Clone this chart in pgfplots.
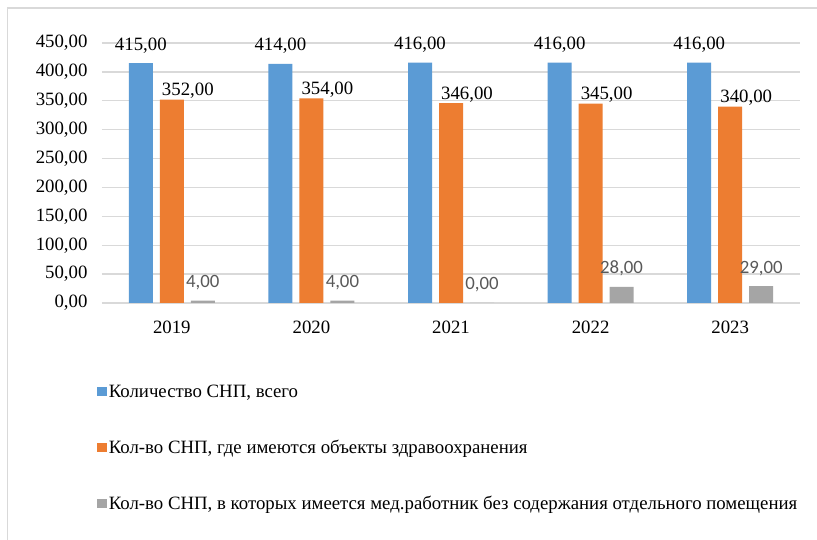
\documentclass[border=0pt]{standalone}
\usepackage{fontspec}
\setmainfont{Liberation Serif}
\newfontfamily\calib{Carlito}
\usepackage{pgfplots}
\pgfplotsset{compat=1.18}

\definecolor{sblue}{HTML}{5B9BD5}
\definecolor{sorange}{HTML}{ED7D31}
\definecolor{sgray}{HTML}{A5A5A5}
\definecolor{gridgray}{HTML}{D9D9D9}
\definecolor{labgray}{HTML}{595959}

\begin{document}
\begin{tikzpicture}[font=\fontsize{18.8}{22}\selectfont]
\pgfkeys{/pgf/number format/.cd, fixed, fixed zerofill, precision=2, use comma, assume math mode=true}
\path[use as bounding box] (0pt,0pt) rectangle (817pt,540pt);
\fill[white] (0pt,0pt) rectangle (817pt,540pt);
\draw[gridgray, line width=1.5pt] (7.5pt,0pt) -- (7.5pt,532pt) -- (817pt,532pt);
\begin{axis}[
    at={(102pt,237pt)}, anchor=south west,
    scale only axis, width=698pt, height=260pt,
    ybar=7pt, bar width=24pt,
    xmin=-0.5, xmax=4.5, ymin=0, ymax=450,
    xtick=data, xticklabels={2019,2020,2021,2022,2023},
    ytick={0,50,...,450},
    ymajorgrids=true, grid style={gridgray, line width=1.3pt},
    axis line style={draw=none},
    major tick length=0pt,
    yticklabel style={xshift=-11pt},
    xticklabel style={yshift=-14pt},
    legend style={at={(-0.007,-0.307)}, anchor=north west, draw=none, fill=none,
                  inner sep=0pt, row sep=37pt, cells={anchor=west},
                  nodes={inner sep=2pt}},
    legend image code/.code={\fill[#1] (0pt,-4.5pt) rectangle (9.5pt,4.5pt);},
    clip=false,
  ]
\addplot[fill=sblue, draw=none, nodes near coords,
  every node near coord/.append style={anchor=base, yshift=13pt, black}]
  coordinates {(0,415) (1,414) (2,416) (3,416) (4,416)};
\addlegendentry{Количество СНП, всего}
\addplot[fill=sorange, draw=none, nodes near coords,
  every node near coord/.append style={anchor=base, yshift=4pt, xshift=16pt, black}]
  coordinates {(0,352) (1,354) (2,346) (3,345) (4,340)};
\addlegendentry{Кол-во СНП, где имеются объекты здравоохранения}
\addplot[fill=sgray, draw=none, nodes near coords,
  every node near coord/.append style={anchor=base, yshift=13pt, font=\calib\fontsize{18.8}{22}\selectfont, labgray}]
  coordinates {(0,4) (1,4) (2,0) (3,28) (4,29)};
\addlegendentry{Кол-во СНП, в которых имеется мед.работник без содержания отдельного помещения}
\end{axis}
\end{tikzpicture}
\end{document}
